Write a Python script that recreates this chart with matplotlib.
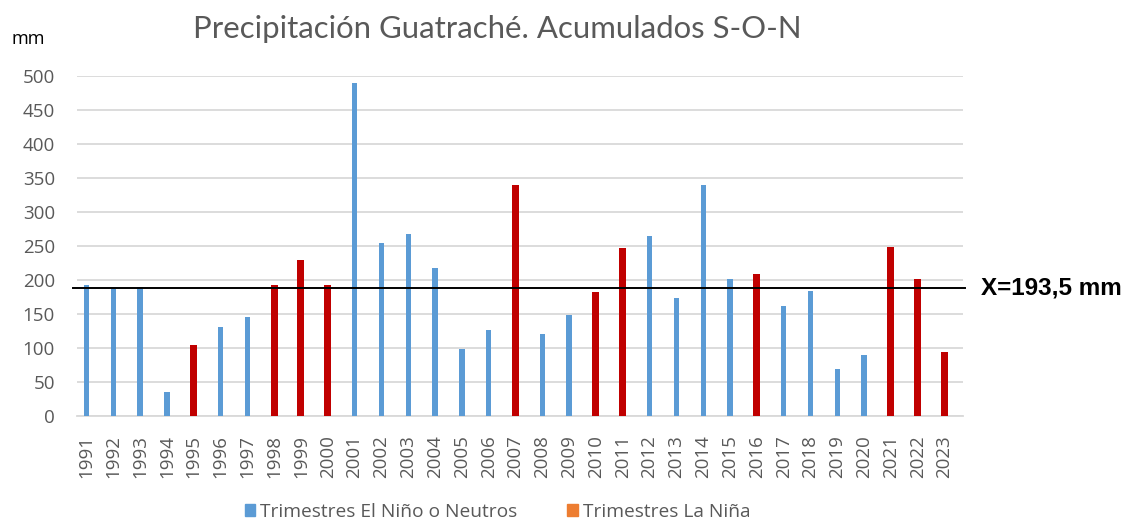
import matplotlib
matplotlib.use("Agg")
import matplotlib.pyplot as plt
from matplotlib.patches import Patch

years = [str(y) for y in range(1991, 2024)]
precip = [193, 186, 190, 35, 104, 131, 145, 193, 230, 193, 489, 255, 268, 217,
          99, 126, 340, 121, 148, 182, 247, 265, 174, 340, 201, 209, 161, 184,
          69, 89, 249, 201, 94]
la_nina_years = ["1995", "1998", "1999", "2000", "2007", "2010", "2011", "2016",
                 "2021", "2022", "2023"]
mean_label = "X=193,5 mm"
mean_line_level = 188
yticks = list(range(0, 501, 50))

title = "Precipitación Guatraché. Acumulados S-O-N"
legend_labels = ["Trimestres El Niño o Neutros", "Trimestres La Niña"]

BLUE = "#5B9BD5"
RED = "#C00000"
ORANGE = "#ED7D31"
GRAY = "#595959"

plt.rcParams['font.family'] = ['Open Sans', 'DejaVu Sans']

fig = plt.figure(figsize=(11.23, 5.20), dpi=100)
ax = fig.add_axes([0.0686, 0.2, 0.7885, 0.654])

x = list(range(len(years)))
colors = [RED if y in la_nina_years else BLUE for y in years]
widths = [0.26 if y in la_nina_years else 0.2 for y in years]
ax.bar(x, precip, width=widths, color=colors, zorder=3)

ax.set_xlim(-0.35, 32.67)
ax.set_ylim(0, 500)
ax.set_yticks(yticks)
ax.set_yticklabels([str(v) for v in yticks], fontsize=13.5, color=GRAY)
ax.set_xticks(x)
ax.set_xticklabels(years, rotation=90, fontsize=13.5, color=GRAY)
ax.tick_params(axis='both', length=0)
ax.tick_params(axis='x', pad=14)
ax.tick_params(axis='y', pad=16)
ax.grid(axis='y', color="#D9D9D9", linewidth=1.3, zorder=0)
for s in ["top", "right", "left"]:
    ax.spines[s].set_visible(False)
ax.spines["bottom"].set_color("#D9D9D9")
ax.spines["bottom"].set_linewidth(1.3)

ax.axhline(mean_line_level, xmin=-0.005, xmax=1.003, color="black", linewidth=1.4,
           zorder=4, clip_on=False)
ax.text(1.021, mean_line_level, mean_label, transform=ax.get_yaxis_transform(),
        fontsize=17.5, fontweight='bold', family=['Liberation Sans', 'DejaVu Sans'],
        va='center', ha='left', color='black')

fig.text(0.4425, 0.945, title, fontsize=22.4, color=GRAY, ha='center', va='center',
         family=['Lato', 'DejaVu Sans'])
fig.text(0.010, 0.925, "mm", fontsize=13, color='black', ha='left', va='center')

handles = [Patch(color=BLUE), Patch(color=ORANGE)]
fig.legend(handles, legend_labels, loc='center', bbox_to_anchor=(0.443, 0.016),
           ncol=2, frameon=False, fontsize=13.8, labelcolor=GRAY,
           handlelength=0.55, handleheight=0.55, handletextpad=0.25, columnspacing=2.6)

fig.savefig("out.png", dpi=100)
